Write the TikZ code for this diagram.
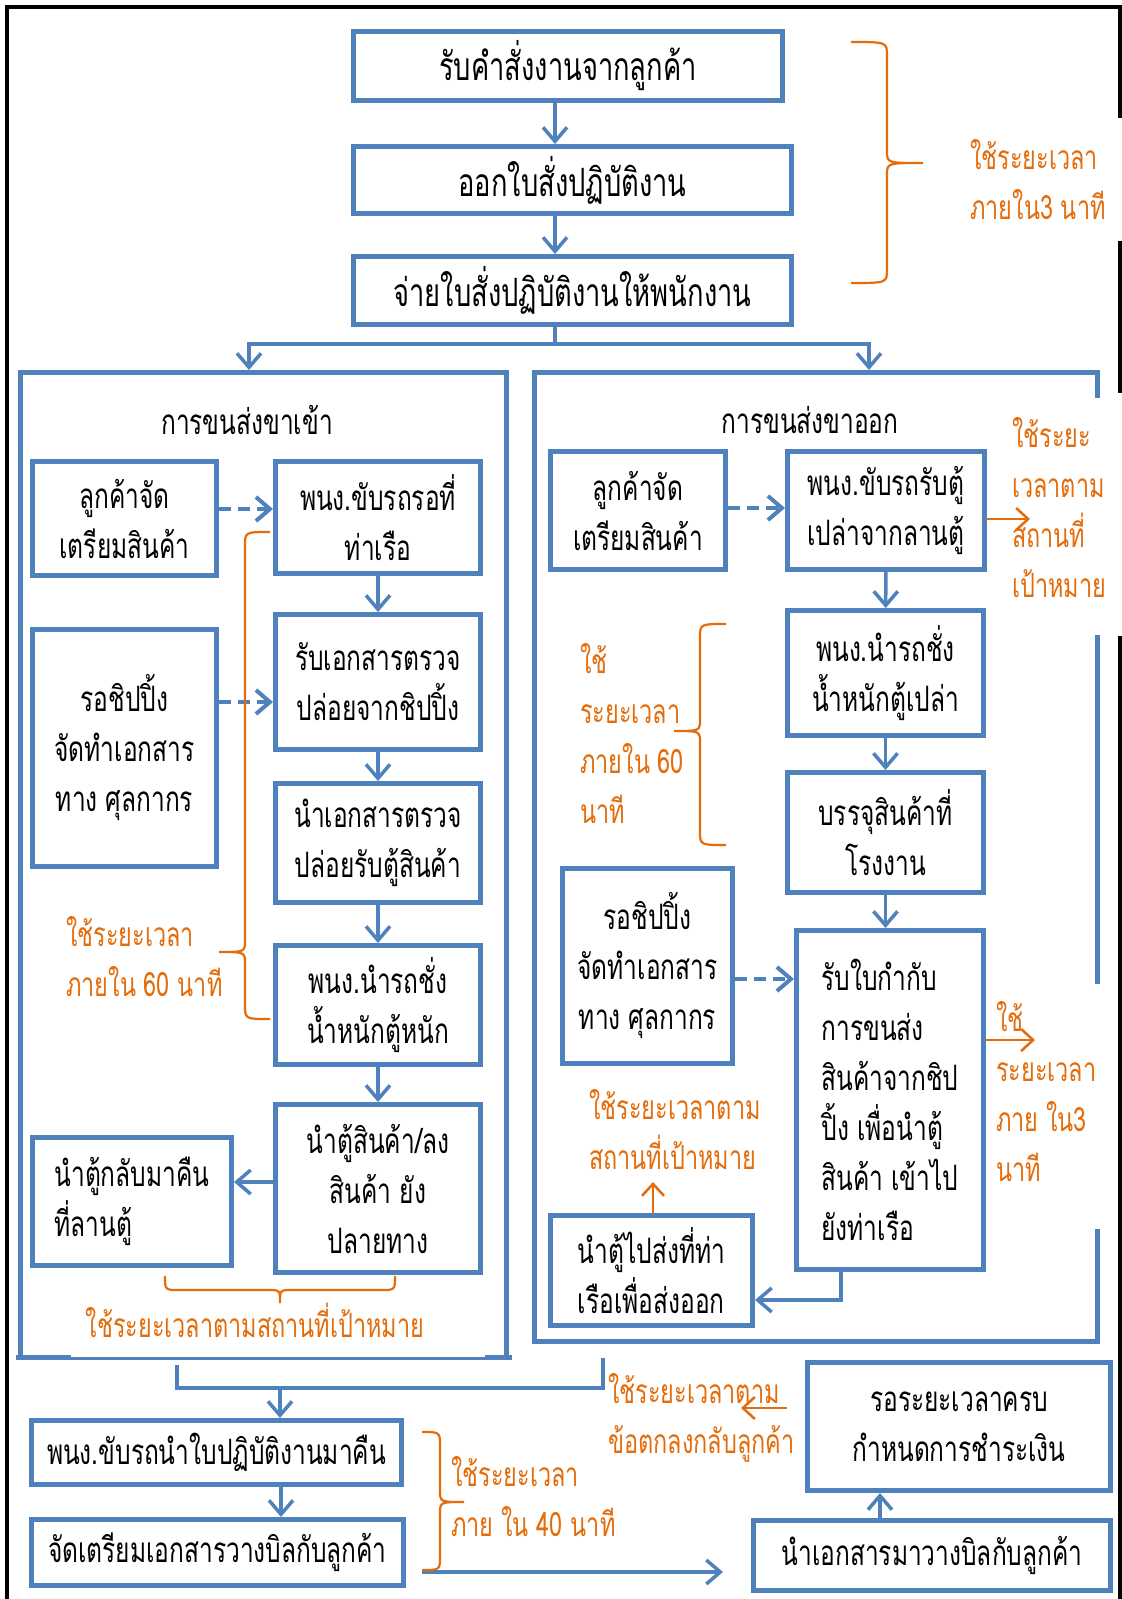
\documentclass[tikz,border=0pt]{standalone}
\usepackage{fontspec}
\newfontfamily\thai[Script=Thai,FakeStretch=0.7]{Loma}
\usetikzlibrary{arrows.meta}
\definecolor{boxblue}{RGB}{79,129,189}
\definecolor{noteorange}{RGB}{228,108,10}
% vertical curly brace: hook x, spine x, tip x, top y, tip y, bottom y
\newcommand\vbrace[6]{%
  \draw[brace] (#1,#4) .. controls (#2,#4) .. (#2,#4+14) -- (#2,#5-12)
    .. controls (#2,#5) .. (#3,#5) .. controls (#2,#5) .. (#2,#5+12)
    -- (#2,#6-14) .. controls (#2,#6) .. (#1,#6);}
\begin{document}
\begin{tikzpicture}[x=1pt,y=-1pt,
  thaitext/.style={font=\thai\fontsize{35}{50}\selectfont},
  box/.style={thaitext,draw=boxblue,line width=5pt,inner sep=0pt,align=center},
  bigbox/.style={box,font=\thai\fontsize{39}{50}\selectfont},
  lbox/.style={box,align=left},
  panelnode/.style={draw=none,inner sep=0pt,outer sep=0pt},
  panel/.style={draw=boxblue,line width=5pt,line cap=rect},
  link/.style={draw=boxblue,line width=3.5pt,line cap=rect},
  flow/.style={draw=boxblue,line width=3.5pt,-{Straight Barb[length=14pt,width=24pt]}},
  dflow/.style={flow,dash pattern=on 12pt off 7pt,line width=4pt},
  oflow/.style={draw=noteorange,line width=2.5pt,-{Straight Barb[length=12pt,width=22pt]}},
  brace/.style={draw=noteorange,line width=2.2pt},
  note/.style={font=\thai\fontsize{33.5}{50}\selectfont,text=noteorange,inner sep=0pt,align=left},
  title/.style={thaitext,inner sep=0pt}]
\fill[white] (0,0) rectangle (1122,1599);
\useasboundingbox (0,0) rectangle (1122,1599);

% outer black frame
\draw[black,line width=4pt] (7,1599) -- (7,7) -- (1120,7) -- (1120,118);
\draw[black,line width=4pt] (1120,241) -- (1120,393);
\draw[black,line width=4pt] (1120,636) -- (1120,1599);

% top sequence
\node[bigbox,minimum width=429pt,minimum height=69pt] (r1) at (568,66) {รับคำสั่งงานจากลูกค้า};
\node[bigbox,minimum width=438pt,minimum height=67pt] (r2) at (572.5,180) {ออกใบสั่งปฏิบัติงาน};
\node[bigbox,minimum width=438pt,minimum height=68pt] (r3) at (572.5,290.5) {จ่ายใบสั่งปฏิบัติงานให้พนักงาน};
\coordinate (cx) at (555,0);
\draw[flow] (r1.south -| cx) -- (r2.north -| cx);
\draw[flow] (r2.south -| cx) -- (r3.north -| cx);
\vbrace{851}{887}{923}{42}{163}{283}
\node[note,anchor=west] (n1) at (970,180) {ใช้ระยะเวลา\\ภายใน3 นาที};

% panels
\node[panelnode,minimum width=486pt,minimum height=985pt] (pin) at (263.5,865) {};
\node[panelnode,minimum width=563pt,minimum height=969pt] (pout) at (816,857) {};
\draw[panel] (pin.south west) -- (pin.north west) -- (pin.north east) -- (pin.south east);
\draw[panel] (18,1357.5) -- (68,1357.5);
\draw[panel] (487,1357.5) -- (509,1357.5);
\draw[boxblue,line width=2.5pt] (68,1358.7) -- (487,1358.7);
\draw[panel] (1097.5,395) -- (pout.north east) -- (pout.north west) -- (pout.south west) -- (pout.south east) -- (1097.5,1231);
\draw[panel] (1097.5,637) -- (1097.5,981);

% split to both panels
\coordinate (sc) at (555,344);
\coordinate (sl) at (249,344);
\coordinate (sr) at (869,344);
\draw[link] (r3.south -| sc) -- (sc);
\draw[link] (sl) -- (sr);
\draw[flow,shorten >=2.5pt] (sl) -- (sl |- pin.north);
\draw[flow,shorten >=2.5pt] (sr) -- (sr |- pout.north);

% inbound panel
\node[title] (tin) at (247,420) {การขนส่งขาเข้า};
\node[box,minimum width=184pt,minimum height=114pt] (a1) at (124.5,518.5) {ลูกค้าจัด\\เตรียมสินค้า};
\node[box,minimum width=205pt,minimum height=112pt] (b1) at (378,517.5) {พนง.ขับรถรอที่\\ท่าเรือ};
\node[box,minimum width=205pt,minimum height=135pt] (b2) at (378,682) {รับเอกสารตรวจ\\ปล่อยจากชิปปิ้ง};
\node[box,minimum width=184pt,minimum height=237pt] (a2) at (124.5,748) {รอชิปปิ้ง\\จัดทำเอกสาร\\ทาง ศุลกากร};
\node[box,minimum width=205pt,minimum height=119pt] (b3) at (378,843) {นำเอกสารตรวจ\\ปล่อยรับตู้สินค้า};
\node[box,minimum width=205pt,minimum height=119pt] (b4) at (378,1005) {พนง.นำรถชั่ง\\น้ำหนักตู้หนัก};
\node[box,minimum width=205pt,minimum height=168pt] (b5) at (378,1188.5) {นำตู้สินค้า/ลง\\สินค้า ยัง\\ปลายทาง};
\node[lbox,minimum width=199pt,minimum height=128pt] (a3) at (132,1201.5) {นำตู้กลับมาคืน\\ที่ลานตู้};
\coordinate (ya1) at (0,509);
\coordinate (ya2) at (0,702);
\coordinate (yb5) at (0,1182);
\draw[dflow] (a1.east |- ya1) -- (b1.west |- ya1);
\draw[dflow] (a2.east |- ya2) -- (b2.west |- ya2);
\draw[flow] (b1) -- (b2);
\draw[flow] (b2) -- (b3);
\draw[flow] (b3) -- (b4);
\draw[flow] (b4) -- (b5);
\draw[flow] (b5.west |- yb5) -- (a3.east |- yb5);
\vbrace{270}{245}{219}{532}{952}{1019}
\node[note,anchor=west] (n2) at (66,957) {ใช้ระยะเวลา\\ภายใน 60 นาที};
\draw[brace] (165,1276) .. controls (165,1290) .. (179,1290) -- (268,1290)
  .. controls (280,1290) .. (280,1303) .. controls (280,1290) .. (292,1290)
  -- (381,1290) .. controls (395,1290) .. (395,1276);
\node[note,align=center] (n3) at (255,1320) {ใช้ระยะเวลาตามสถานที่เป้าหมาย};

% outbound panel
\node[title] (tout) at (810,420) {การขนส่งขาออก};
\node[box,minimum width=175pt,minimum height=118pt] (c1) at (638,510.5) {ลูกค้าจัด\\เตรียมสินค้า};
\node[box,minimum width=197pt,minimum height=118pt] (d1) at (886,510.5) {พนง.ขับรถรับตู้\\เปล่าจากลานตู้};
\node[box,minimum width=196pt,minimum height=125pt] (d2) at (885.5,673) {พนง.นำรถชั่ง\\น้ำหนักตู้เปล่า};
\node[box,minimum width=196pt,minimum height=120pt] (d3) at (885.5,832.5) {บรรจุสินค้าที่\\โรงงาน};
\node[lbox,minimum width=187pt,minimum height=339pt] (d4) at (890,1100) {รับใบกำกับ\\การขนส่ง\\สินค้าจากชิป\\ปิ้ง เพื่อนำตู้\\สินค้า เข้าไป\\ยังท่าเรือ};
\node[box,minimum width=170pt,minimum height=195pt] (c2) at (647.5,966) {รอชิปปิ้ง\\จัดทำเอกสาร\\ทาง ศุลกากร};
\node[lbox,minimum width=202pt,minimum height=110pt] (c3) at (651.5,1270.5) {นำตู้ไปส่งที่ท่า\\เรือเพื่อส่งออก};
\coordinate (yc1) at (0,508);
\coordinate (yc2) at (0,979);
\coordinate (yd1) at (0,519);
\coordinate (yd4) at (0,1040);
\coordinate (xd4) at (841,1300);
\coordinate (xc3) at (653,1182);
\coordinate (od1) at (1030,519);
\coordinate (od4) at (1035,1040);
\draw[dflow] (c1.east |- yc1) -- (d1.west |- yc1);
\draw[dflow] (c2.east |- yc2) -- (d4.west |- yc2);
\draw[flow] (d1) -- (d2);
\draw[flow] (d2) -- (d3);
\draw[flow] (d3.south) -- (d3.south |- d4.north);
\draw[flow] (d4.south -| xd4) -- (xd4) -- (c3.east |- xd4);
\draw[oflow] (d1.east |- yd1) -- (od1);
\draw[oflow] (d4.east |- yd4) -- (od4);
\draw[oflow] (c3.north -| xc3) -- (xc3);
\node[note,anchor=west] (n4) at (1012,508) {ใช้ระยะ\\เวลาตาม\\สถานที่\\เป้าหมาย};
\vbrace{726}{700}{674}{624}{731}{845}
\node[note,anchor=west] (n5) at (580,734) {ใช้\\ระยะเวลา\\ภายใน 60\\นาที};
\node[note,anchor=west] (n6) at (996,1092) {ใช้\\ระยะเวลา\\ภาย ใน3\\นาที};
\node[note,anchor=west] (n7) at (589,1130) {ใช้ระยะเวลาตาม\\สถานที่เป้าหมาย};

% closing steps
\node[box,minimum width=370pt,minimum height=64pt] (e1) at (216.5,1452.5) {พนง.ขับรถนำใบปฏิบัติงานมาคืน};
\node[box,minimum width=372pt,minimum height=66pt] (e2) at (217.5,1552.5) {จัดเตรียมเอกสารวางบิลกับลูกค้า};
\node[box,minimum width=303pt,minimum height=128pt] (f1) at (959,1426.5) {รอระยะเวลาครบ\\กำหนดการชำระเงิน};
\node[box,minimum width=357pt,minimum height=70pt] (f2) at (932,1555.5) {นำเอกสารมาวางบิลกับลูกค้า};
\coordinate (mx) at (280,1388);
\coordinate (ex) at (281,0);
\coordinate (fx) at (880,0);
\coordinate (bs) at (422,1572);
\coordinate (be) at (723,1572);
\coordinate (os) at (787,1408);
\coordinate (oe) at (741,1408);
\draw[link] (177,1367) -- (177,1388) -- (603,1388) -- (603,1360);
\draw[flow] (mx) -- (e1.north -| mx);
\draw[flow] (e1.south -| ex) -- (e2.north -| ex);
\draw[flow] (bs) -- (be);
\draw[flow] (f2.north -| fx) -- (f1.south -| fx);
\draw[oflow] (os) -- (oe);
\vbrace{422}{440}{464}{1432}{1502}{1570}
\node[note,anchor=west] (n8) at (451,1497) {ใช้ระยะเวลา\\ภาย ใน 40 นาที};
\node[note,anchor=west] (n9) at (608,1418) {ใช้ระยะเวลาตาม\\ข้อตกลงกลับลูกค้า};
\end{tikzpicture}
\end{document}
